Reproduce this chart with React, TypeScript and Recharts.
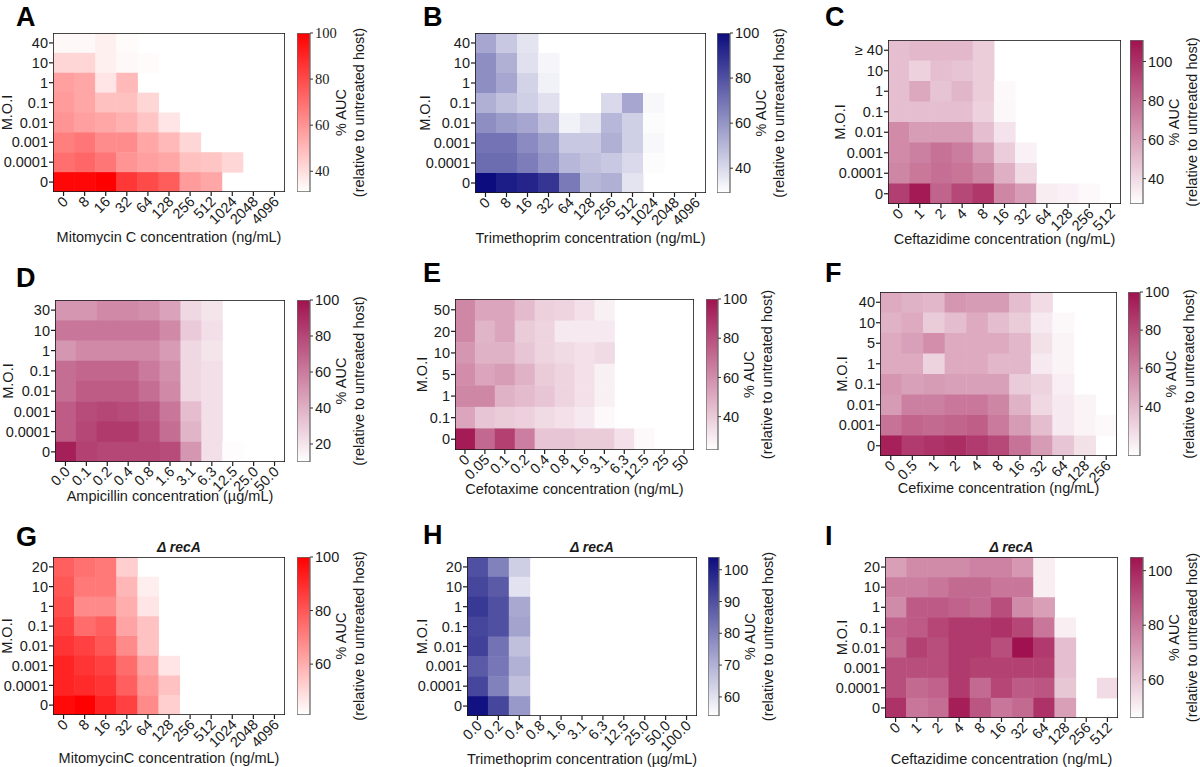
import React from 'react';
import {
  ScatterChart,
  Scatter,
  XAxis,
  YAxis,
  BarChart,
  Bar
} from 'recharts';

// ---- data (row labels top -> bottom, null = blank cell) ----
const molA = ['40', '10', '1', '0.1', '0.01', '0.001', '0.0001', '0'];
const concMito = ['0', '8', '16', '32', '64', '128', '256', '512', '1024', '2048', '4096'];
const aucA = [
  [33, 33, 35, 32, null, null, null, null, null, null, null],
  [42, 42, 35, 33, 32, null, null, null, null, null, null],
  [57, 55, 38, 50, null, null, null, null, null, null, null],
  [58, 55, 48, 48, 42, null, null, null, null, null, null],
  [60, 57, 55, 52, 47, 38, null, null, null, null, null],
  [66, 68, 62, 62, 55, 50, 42, null, null, null, null],
  [70, 72, 68, 60, 57, 55, 48, 47, 42, null, null],
  [98, 98, 100, 85, 80, 75, 58, 55, null, null, null]
];

const concTmpB = ['0', '8', '16', '32', '64', '128', '256', '512', '1024', '2048', '4096'];
const aucB = [
  [55, 45, 37, null, null, null, null, null, null, null, null],
  [62, 52, 38, 32, null, null, null, null, null, null, null],
  [62, 55, 42, 33, null, null, null, null, null, null, null],
  [52, 47, 43, 38, null, null, 40, 55, 31, null, null],
  [62, 58, 55, 47, 33, 37, 50, 43, 30, null, null],
  [70, 70, 63, 57, 45, 45, 52, 43, 31, null, null],
  [72, 72, 67, 60, 50, 47, 45, 40, 30, null, null],
  [100, 95, 93, 88, 68, 50, 52, 37, null, null, null]
];

const molC = ['≥ 40', '10', '1', '0.1', '0.01', '0.001', '0.0001', '0'];
const concCaz = ['0', '1', '2', '4', '8', '16', '32', '64', '128', '256', '512'];
const aucC = [
  [50, 52, 52, 52, 45, null, null, null, null, null, null],
  [50, 43, 50, 48, 45, null, null, null, null, null, null],
  [50, 58, 48, 53, 45, 29, null, null, null, null, null],
  [50, 50, 50, 50, 43, 30, null, null, null, null, null],
  [68, 62, 62, 62, 50, 37, null, null, null, null, null],
  [68, 72, 77, 73, 62, 45, 32, null, null, null, null],
  [70, 75, 78, 76, 70, 55, 40, null, null, null, null],
  [95, 108, 82, 92, 98, 70, 62, 33, 32, 29, null]
];

const molD = ['30', '10', '1', '0.1', '0.01', '0.001', '0.0001', '0'];
const concAmp = ['0.0', '0.1', '0.2', '0.4', '0.8', '1.6', '3.1', '6.3', '12.5', '25.0', '50.0'];
const aucD = [
  [50, 50, 55, 55, 52, 45, 25, 20, null, null, null],
  [62, 62, 62, 62, 62, 55, 30, 22, null, null, null],
  [50, 55, 55, 55, 55, 48, 25, 20, null, null, null],
  [65, 68, 68, 68, 60, 52, 25, 22, null, null, null],
  [65, 72, 72, 72, 65, 55, 25, 22, null, null, null],
  [72, 78, 80, 78, 75, 62, 35, 22, null, null, null],
  [72, 80, 85, 85, 78, 65, 38, 22, null, null, null],
  [95, 82, 80, 80, 80, 78, 50, 22, 11, null, null]
];

const molE = ['50', '20', '10', '5', '1', '0.1', '0'];
const concCtx = ['0', '0.05', '0.1', '0.2', '0.4', '0.8', '1.6', '3.1', '6.3', '12.5', '25', '50'];
const aucE = [
  [62, 52, 52, 45, 38, 37, 33, 28, null, null, null, null],
  [62, 47, 52, 40, 37, 30, 30, 30, null, null, null, null],
  [57, 48, 48, 42, 37, 35, 33, 35, null, null, null, null],
  [60, 52, 55, 48, 40, 37, 33, 28, null, null, null, null],
  [62, 62, 48, 45, 42, 37, 33, 28, null, null, null, null],
  [52, 42, 40, 38, 35, 33, 30, 25, null, null, null, null],
  [97, 72, 85, 65, 42, 42, 40, 40, 33, 25, null, null]
];

const molF = ['40', '10', '5', '1', '0.1', '0.01', '0.001', '0'];
const concCfx = ['0', '0.5', '1', '2', '4', '8', '16', '32', '64', '128', '256'];
const aucF = [
  [45, 42, 40, 52, 50, 50, 38, 27, null, null, null],
  [42, 45, 33, 38, 45, 38, 33, 22, 17, null, null],
  [45, 48, 55, 45, 45, 45, 40, 25, 18, null, null],
  [45, 45, 30, 45, 45, 40, 40, 22, 18, null, null],
  [52, 48, 50, 48, 48, 48, 33, 30, 20, null, null],
  [50, 60, 60, 63, 63, 58, 42, 28, 22, 18, null],
  [65, 70, 68, 70, 72, 62, 50, 38, 22, 18, 16],
  [95, 85, 88, 90, 85, 80, 65, 50, 35, 25, null]
];

const molRec = ['20', '10', '1', '0.1', '0.01', '0.001', '0.0001', '0'];
const aucG = [
  [78, 74, 72, 52, null, null, null, null, null, null, null],
  [80, 72, 72, 58, 45, null, null, null, null, null, null],
  [82, 68, 68, 60, 47, null, null, null, null, null, null],
  [85, 75, 78, 62, 55, null, null, null, null, null, null],
  [88, 85, 80, 68, 55, null, null, null, null, null, null],
  [92, 88, 85, 75, 62, 47, null, null, null, null, null],
  [92, 90, 88, 78, 65, 55, null, null, null, null, null],
  [98, 100, 92, 85, 68, 52, null, null, null, null, null]
];

const concTmpH = ['0.0', '0.2', '0.4', '0.8', '1.6', '3.1', '6.3', '12.5', '25.0', '50.0', '100.0'];
const aucH = [
  [90, 80, 64, null, null, null, null, null, null, null, null],
  [92, 88, 60, null, null, null, null, null, null, null, null],
  [95, 90, 72, null, null, null, null, null, null, null, null],
  [92, 90, 73, null, null, null, null, null, null, null, null],
  [93, 83, 67, null, null, null, null, null, null, null, null],
  [88, 82, 70, null, null, null, null, null, null, null, null],
  [92, 80, 67, null, null, null, null, null, null, null, null],
  [103, 92, 75, null, null, null, null, null, null, null, null]
];

const aucI = [
  [70, 75, 75, 75, 77, 77, 72, 50, null, null, null],
  [78, 78, 80, 83, 83, 80, 80, 50, null, null, null],
  [75, 87, 87, 85, 83, 90, 75, 70, null, null, null],
  [85, 87, 92, 95, 95, 97, 92, 80, 50, null, null],
  [83, 93, 90, 95, 95, 90, 105, 95, 62, null, null],
  [90, 90, 90, 95, 93, 93, 93, 93, 62, null, null],
  [90, 83, 85, 95, 83, 92, 87, 88, 60, null, 55],
  [97, 80, 82, 102, 88, 80, 83, 97, 70, null, null]
];

const RED = '#ff0000';
const NAVY = '#0c0c7e';
const BERRY = '#a0124f';
const FONT = 'Arial, "Liberation Sans", Helvetica, sans-serif';
const INK = '#1a1a1a';

type Box = { x0: number; y0: number; x1: number; y1: number };
type PanelDef = {
  letter: string;
  letterAt: [number, number];
  box: Box;
  bar: Box;
  rows: string[];
  cols: string[];
  values: (number | null)[][];
  range: [number, number];
  ticks: number[];
  color: string;
  xTitle: string;
  xTitleGap: number;
  yTitleGap: number;
  title?: string;
  serifBar?: boolean;
};

const panels: PanelDef[] = [
  { letter: 'A', letterAt: [16, 26], box: { x0: 53, y0: 33, x1: 285, y1: 192 }, bar: { x0: 297, y0: 33, x1: 310, y1: 192 },
    rows: molA, cols: concMito, values: aucA, range: [31, 100], ticks: [40, 60, 80, 100], color: RED,
    xTitle: 'Mitomycin C concentration (ng/mL)', xTitleGap: 45, yTitleGap: 46, serifBar: true },
  { letter: 'B', letterAt: [423, 26], box: { x0: 475, y0: 33, x1: 706, y1: 193 }, bar: { x0: 717, y0: 33, x1: 730, y1: 193 },
    rows: molA, cols: concTmpB, values: aucB, range: [29, 100], ticks: [40, 60, 80, 100], color: NAVY,
    xTitle: 'Trimethoprim concentration (ng/mL)', xTitleGap: 45, yTitleGap: 50 },
  { letter: 'C', letterAt: [825, 26], box: { x0: 888, y0: 40, x1: 1121, y1: 204 }, bar: { x0: 1130, y0: 40, x1: 1143, y1: 204 },
    rows: molC, cols: concCaz, values: aucC, range: [27, 111], ticks: [40, 60, 80, 100], color: BERRY,
    xTitle: 'Ceftazidime concentration (ng/mL)', xTitleGap: 35, yTitleGap: 48 },
  { letter: 'D', letterAt: [16, 287], box: { x0: 55, y0: 300, x1: 285, y1: 462 }, bar: { x0: 297, y0: 300, x1: 310, y1: 462 },
    rows: molD, cols: concAmp, values: aucD, range: [10, 100], ticks: [20, 40, 60, 80, 100], color: BERRY,
    xTitle: 'Ampicillin concentration (µg/mL)', xTitleGap: 34, yTitleGap: 47 },
  { letter: 'E', letterAt: [423, 282], box: { x0: 455, y0: 299, x1: 694, y1: 450 }, bar: { x0: 706, y0: 299, x1: 718, y1: 450 },
    rows: molE, cols: concCtx, values: aucE, range: [23, 100], ticks: [40, 60, 80, 100], color: BERRY,
    xTitle: 'Cefotaxime concentration (ng/mL)', xTitleGap: 39, yTitleGap: 33 },
  { letter: 'F', letterAt: [825, 282], box: { x0: 880, y0: 292, x1: 1117, y1: 456 }, bar: { x0: 1128, y0: 292, x1: 1140, y1: 456 },
    rows: molF, cols: concCfx, values: aucF, range: [14, 100], ticks: [40, 60, 80, 100], color: BERRY,
    xTitle: 'Cefixime concentration (ng/mL)', xTitleGap: 32, yTitleGap: 38 },
  { letter: 'G', letterAt: [16, 546], box: { x0: 53, y0: 557, x1: 285, y1: 715 }, bar: { x0: 297, y0: 557, x1: 310, y1: 715 },
    rows: molRec, cols: concMito, values: aucG, range: [41, 100], ticks: [60, 80, 100], color: RED,
    xTitle: 'MitomycinC concentration (ng/mL)', xTitleGap: 43, yTitleGap: 46, title: 'Δ recA' },
  { letter: 'H', letterAt: [423, 544], box: { x0: 467, y0: 557, x1: 697, y1: 716 }, bar: { x0: 708, y0: 557, x1: 719, y1: 716 },
    rows: molRec, cols: concTmpH, values: aucH, range: [54, 104], ticks: [60, 70, 80, 90, 100], color: NAVY,
    xTitle: 'Trimethoprim concentration (µg/mL)', xTitleGap: 43, yTitleGap: 45, title: 'Δ recA' },
  { letter: 'I', letterAt: [825, 545], box: { x0: 885, y0: 557, x1: 1118, y1: 718 }, bar: { x0: 1130, y0: 557, x1: 1143, y1: 718 },
    rows: molRec, cols: concCaz, values: aucI, range: [46, 105], ticks: [60, 80, 100], color: BERRY,
    xTitle: 'Ceftazidime concentration (ng/mL)', xTitleGap: 41, yTitleGap: 43, title: 'Δ recA' }
];

const hexToRgb = (hex: string) => {
  const n = parseInt(hex.slice(1), 16);
  return [(n >> 16) & 255, (n >> 8) & 255, n & 255];
};

// white -> colour, linear in RGB
const shade = (color: string, v: number, range: [number, number]) => {
  const t = Math.max(0, Math.min(1, (v - range[0]) / (range[1] - range[0])));
  const [r, g, b] = hexToRgb(color);
  const mix = (c: number) => Math.round(255 + (c - 255) * t);
  return `rgb(${mix(r)},${mix(g)},${mix(b)})`;
};

const YW = 72; // y axis band width
const XH = 62; // x axis band height
const TOP = 10;
const RIGHT = 10;

const Heatmap = ({ p }: { p: PanelDef }) => {
  const boxW = p.box.x1 - p.box.x0;
  const boxH = p.box.y1 - p.box.y0;
  const nC = p.cols.length;
  const nR = p.rows.length;
  const cw = boxW / nC;
  const ch = boxH / nR;

  const cells: { x: number; y: number; v: number }[] = [];
  p.values.forEach((row, ri) =>
    row.forEach((v, ci) => {
      if (v !== null) cells.push({ x: ci, y: nR - 1 - ri, v });
    })
  );
  // centre of the grid, used to hang the outline frame on
  const centre = [{ x: (nC - 1) / 2, y: (nR - 1) / 2 }];

  const CellShape = (props: any) => {
    const { cx, cy, payload } = props;
    return (
      <rect
        x={cx - cw / 2}
        y={cy - ch / 2}
        width={cw + 0.5}
        height={ch + 0.5}
        fill={shade(p.color, payload.v, p.range)}
      />
    );
  };

  const FrameShape = (props: any) => {
    const { cx, cy } = props;
    return (
      <rect
        x={cx - boxW / 2}
        y={cy - boxH / 2}
        width={boxW}
        height={boxH}
        fill="none"
        stroke={INK}
        strokeWidth={1.6}
      />
    );
  };

  const XTick = (props: any) => {
    const { x, y, payload } = props;
    const ax = x + 2;
    const ay = y + 1;
    return (
      <text
        x={ax}
        y={ay}
        transform={`rotate(-45 ${ax} ${ay})`}
        textAnchor="end"
        dominantBaseline="central"
        fontSize={14.5}
        fontFamily={FONT}
        fill={INK}
      >
        {p.cols[payload.value]}
      </text>
    );
  };

  const xTitle = (props: any) => {
    const vb = props.viewBox;
    return (
      <text
        x={vb.x + vb.width / 2}
        y={vb.y + p.xTitleGap}
        textAnchor="middle"
        dominantBaseline="central"
        fontSize={14.5}
        fontFamily={FONT}
        fill={INK}
      >
        {p.xTitle}
      </text>
    );
  };

  const yTitle = (props: any) => {
    const vb = props.viewBox;
    const x = vb.x + vb.width - p.yTitleGap;
    const y = vb.y + vb.height / 2;
    return (
      <text
        x={x}
        y={y}
        transform={`rotate(-90 ${x} ${y})`}
        textAnchor="middle"
        dominantBaseline="central"
        fontSize={14.5}
        fontFamily={FONT}
        fill={INK}
      >
        M.O.I
      </text>
    );
  };

  return (
    <div style={{ position: 'absolute', left: p.box.x0 - YW, top: p.box.y0 - TOP }}>
      <ScatterChart
        width={YW + boxW + RIGHT}
        height={TOP + boxH + XH}
        margin={{ top: TOP, right: RIGHT, bottom: 0, left: 0 }}
      >
        <XAxis
          type="number"
          dataKey="x"
          domain={[-0.5, nC - 0.5]}
          ticks={p.cols.map((_, i) => i)}
          interval={0}
          height={XH}
          tick={<XTick />}
          tickSize={4}
          tickLine={{ stroke: INK, strokeWidth: 1.2 }}
          axisLine={false}
          allowDataOverflow
          label={xTitle}
        />
        <YAxis
          type="number"
          dataKey="y"
          domain={[-0.5, nR - 0.5]}
          ticks={p.rows.map((_, i) => i)}
          interval={0}
          width={YW}
          tickFormatter={(i: number) => p.rows[nR - 1 - i]}
          tick={{ fontSize: 14.5, fontFamily: FONT, fill: INK }}
          tickSize={4}
          tickMargin={1}
          tickLine={{ stroke: INK, strokeWidth: 1.2 }}
          axisLine={false}
          allowDataOverflow
          label={yTitle}
        />
        <Scatter data={cells} shape={CellShape} isAnimationActive={false} />
        <Scatter data={centre} shape={FrameShape} isAnimationActive={false} />
      </ScatterChart>
    </div>
  );
};

const ColorBar = ({ p }: { p: PanelDef }) => {
  const barW = p.bar.x1 - p.bar.x0;
  const barH = p.bar.y1 - p.bar.y0;
  const pad = 10;
  const axisW = 80;
  const gid = `grad-${p.letter}`;
  const barData = [{ name: 'scale', span: p.range }];

  const titles = (props: any) => {
    const vb = props.viewBox;
    const y = vb.y + vb.height / 2;
    const x1 = vb.x + 31;
    const x2 = vb.x + 49;
    return (
      <g fontFamily={FONT} fontSize={14.5} fill={INK}>
        <text x={x1} y={y} transform={`rotate(-90 ${x1} ${y})`} textAnchor="middle" dominantBaseline="central">
          % AUC
        </text>
        <text x={x2} y={y} transform={`rotate(-90 ${x2} ${y})`} textAnchor="middle" dominantBaseline="central">
          (relative to untreated host)
        </text>
      </g>
    );
  };

  return (
    <div style={{ position: 'absolute', left: p.bar.x0, top: p.bar.y0 - pad }}>
      <BarChart
        width={barW + axisW}
        height={barH + pad * 2}
        data={barData}
        margin={{ top: pad, right: 0, bottom: pad, left: 0 }}
        barCategoryGap={0}
      >
        <defs>
          <linearGradient id={gid} x1="0" y1="0" x2="0" y2="1">
            <stop offset="0%" stopColor={p.color} />
            <stop offset="100%" stopColor="#ffffff" />
          </linearGradient>
        </defs>
        <XAxis dataKey="name" hide />
        <YAxis
          orientation="right"
          type="number"
          domain={p.range}
          ticks={p.ticks}
          width={axisW}
          allowDataOverflow
          axisLine={false}
          tickSize={3}
          tickMargin={2}
          tickLine={{ stroke: '#333' }}
          tick={{
            fontSize: 14.5,
            fontFamily: p.serifBar ? '"Liberation Serif", "Times New Roman", serif' : FONT,
            fill: INK
          }}
          label={titles}
        />
        <Bar dataKey="span" fill={`url(#${gid})`} stroke="#6a6a6a" strokeWidth={1.3} isAnimationActive={false} />
      </BarChart>
    </div>
  );
};

const Panel = ({ p }: { p: PanelDef }) => (
  <>
    <div
      style={{
        position: 'absolute',
        left: p.letterAt[0],
        top: p.letterAt[1] - 24,
        fontSize: 27,
        fontWeight: 'bold',
        fontFamily: FONT,
        lineHeight: '31px',
        color: '#000'
      }}
    >
      {p.letter}
    </div>
    {p.title && (
      <div
        style={{
          position: 'absolute',
          left: (p.box.x0 + p.box.x1) / 2 + 10 - 60,
          width: 120,
          top: p.box.y0 - 18,
          textAlign: 'center',
          fontSize: 14,
          fontWeight: 'bold',
          fontStyle: 'italic',
          fontFamily: FONT,
          lineHeight: '16px',
          color: INK
        }}
      >
        {p.title}
      </div>
    )}
    <Heatmap p={p} />
    <ColorBar p={p} />
  </>
);

export default function App() {
  return (
    <div
      style={{
        position: 'absolute',
        left: 0,
        top: 0,
        width: 1200,
        height: 767,
        overflow: 'hidden',
        background: '#fff',
        fontFamily: FONT
      }}
    >
      {panels.map((p) => (
        <Panel key={p.letter} p={p} />
      ))}
    </div>
  );
}
